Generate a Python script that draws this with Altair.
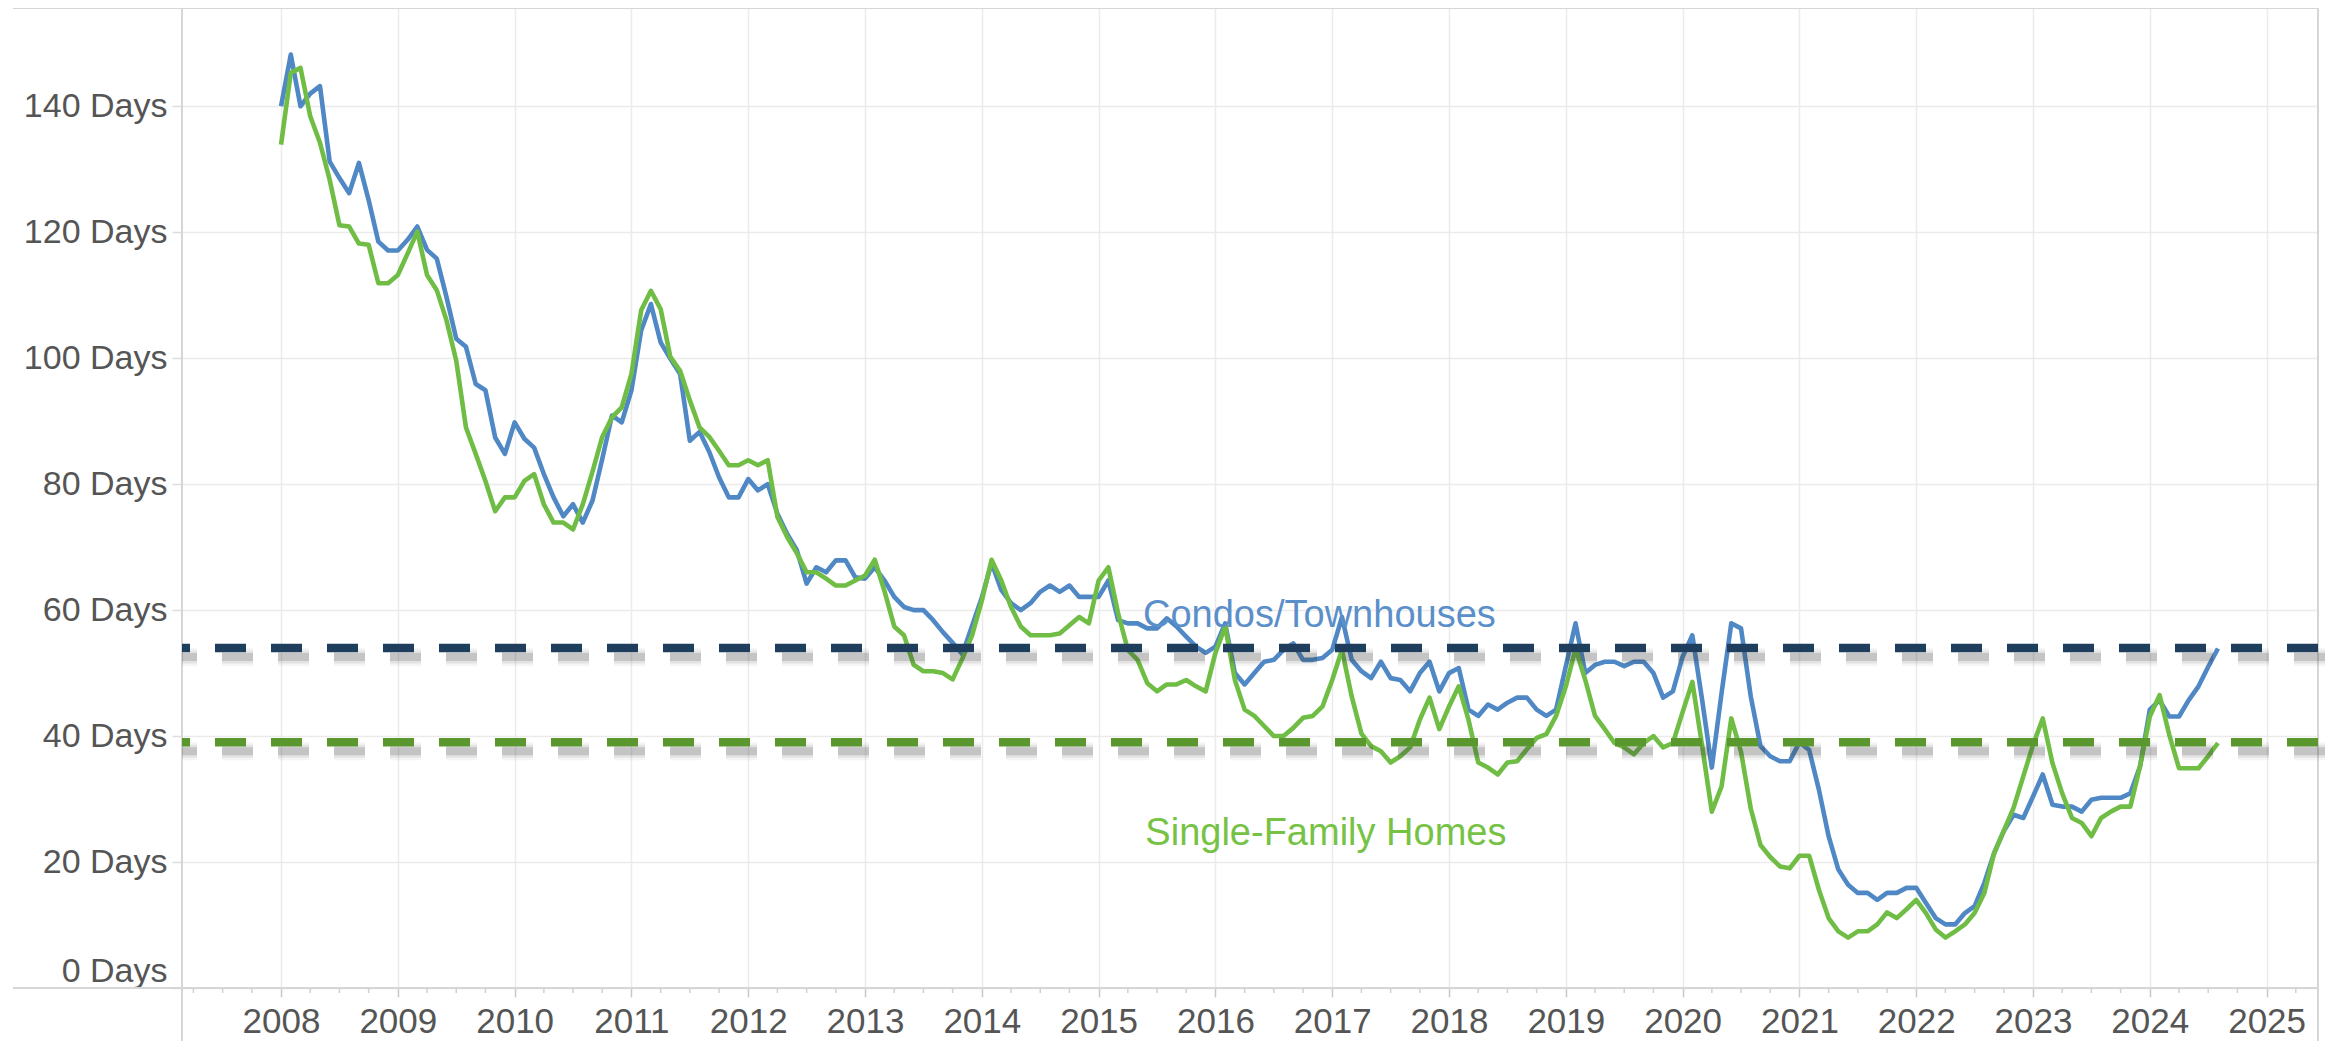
import altair as alt
import pandas as pd

# ---------------- data (monthly, Jan 2008 - Aug 2024) ----------------
start_year = 2008
condos = [
    140, 148.2, 140, 142, 143.2, 131.2, 128.6, 126.2, 131, 125.1, 118.5, 117.1,
    117.1, 118.8, 120.9, 117.2, 115.8, 109.7, 103.1, 101.8, 95.9, 94.9, 87.4, 84.8,
    89.8, 87.2, 85.8, 81.6, 77.9, 74.9, 76.8, 73.9, 77.4, 84, 90.9, 89.8,
    94.9, 104.4, 108.6, 102.5, 99.9, 97.5, 86.9, 88.3, 85.1, 81.1, 77.9, 77.9,
    80.8, 79, 80, 75.3, 72.1, 69.5, 64.2, 66.8, 66, 67.9, 67.9, 65.2,
    65, 66.8, 64.7, 62.1, 60.5, 60, 60, 58.4, 56.5, 54.8, 53, 57.5,
    62, 67.5, 63.2, 61.1, 60, 61.1, 62.9, 63.9, 62.9, 63.9, 62.1, 62.1,
    62.1, 64.7, 58.4, 57.9, 57.9, 57.1, 57.1, 58.7, 57.4, 55.8, 54.2, 53.2,
    54.2, 57.9, 50, 48.2, 50, 51.8, 52.1, 53.7, 54.7, 52.1, 52.1, 52.4,
    53.7, 58.9, 52.1, 50.3, 49.2, 51.8, 49.2, 48.9, 47.1, 50, 51.8, 47.1,
    50, 50.8, 44.2, 43.2, 45, 44.2, 45.3, 46.1, 46.1, 44.2, 43.2, 44.2,
    51.1, 57.9, 50, 51.3, 51.8, 51.8, 51.1, 51.8, 51.8, 50, 46.1, 47.1,
    52.6, 56, 45.8, 35, 46.8, 57.9, 57.1, 46.3, 38.4, 36.8, 36, 36,
    39, 37.8, 31.5, 24.1, 18.8, 16.4, 15.1, 15.1, 14, 15.1, 15.1, 15.9,
    15.9, 13.5, 11.1, 10.1, 10.1, 11.9, 13, 16.7, 21.4, 24.9, 27.5, 27,
    30.4, 33.9, 29.1, 28.8, 28.8, 28, 29.9, 30.2, 30.2, 30.2, 30.9, 35.2,
    44.2, 45.7, 43.1, 43.1, 45.7, 47.9, 51, 53.9,
]
single_family = [
    133.9, 145.3, 146.1, 138.4, 134.2, 128.3, 121.1, 120.9, 118.2, 118, 111.9, 111.9,
    113.2, 116.6, 120.1, 113.2, 110.8, 106, 99.6, 89, 84.8, 80.5, 75.7, 77.9,
    77.9, 80.5, 81.6, 76.8, 73.9, 73.9, 72.8, 76.8, 82, 87.5, 90.6, 92.2,
    97.5, 107.6, 110.7, 107.8, 100.2, 98, 93.3, 89, 87.5, 85.3, 83, 83,
    83.8, 83, 83.8, 74.8, 71.6, 69, 66, 66, 65, 63.9, 63.9, 64.7,
    65.5, 68, 63, 57.4, 56, 51.3, 50.3, 50.3, 50, 49, 52.3, 56,
    61.5, 68, 64.7, 60.5, 57.4, 56, 56, 56, 56.3, 57.6, 58.9, 57.9,
    64.7, 66.8, 59.5, 53.7, 52.1, 48.4, 47.1, 48.2, 48.2, 48.9, 47.9, 47.1,
    53.2, 57.4, 48.9, 44.2, 43.2, 41.6, 40, 40, 41.3, 42.9, 43.2, 44.7,
    48.9, 53.7, 46.3, 40.4, 38.4, 37.6, 35.8, 36.8, 38.2, 42.6, 46.1, 41.1,
    44.7, 47.9, 42.6, 35.8, 35, 33.9, 35.8, 36, 37.9, 39.7, 40.3, 43.2,
    47.9, 53.9, 48.9, 43.2, 41.1, 38.9, 38.2, 37.1, 38.9, 40, 38.2, 38.9,
    43.8, 48.6, 38.5, 28, 32, 42.8, 37.5, 28.5, 22.7, 20.8, 19.3, 19,
    21, 21, 15.6, 11.1, 9, 8, 9, 9, 10.1, 12, 11.1, 12.5,
    14, 11.9, 9.3, 8, 9, 10.1, 11.9, 15.1, 21.4, 25, 28.6, 33.6,
    38.6, 42.8, 35.7, 30.9, 27, 26.2, 24.1, 27, 28, 28.8, 28.8, 35.2,
    43.1, 46.5, 40.2, 34.9, 34.9, 34.9, 36.8, 38.9,
]
series_names = ["Condos/Townhouses", "Single-Family Homes"]
reference_values = [54, 39]          # average lines
year_ticks = list(range(2008, 2026))
day_ticks = [0, 20, 40, 60, 80, 100, 120, 140]
label_x = [2015.38, 2015.4]
label_y = [59, 24.4]

# ---------------- styling ----------------
BLUE = "#4f88c4"
GREEN = "#70bd45"
BLUE_TXT = "#5b8fc9"
GREEN_TXT = "#76c245"
NAVY_REF = "#1f3e5e"
GREEN_REF = "#5a972e"
TEXT = "#555555"
GRID = "#ebebeb"
BORDER = "#d6d6d6"
FONT = "Liberation Sans"

W, H = 2136, 980
x_scale = alt.Scale(domain=[2007.152, 2025.44], nice=False, zero=False)
y_scale = alt.Scale(domain=[0, 155.6], nice=False, zero=True)

n = len(condos)
months = [start_year + i / 12 for i in range(n)]
df_c = pd.DataFrame({"t": months, "days": condos})
df_s = pd.DataFrame({"t": months, "days": single_family})

x_axis = alt.Axis(values=year_ticks, format="d", title=None, grid=True,
                  gridColor=GRID, gridWidth=1.5, domain=False, ticks=True,
                  tickSize=9, tickColor="#c8c8c8", tickWidth=1.5,
                  labelFontSize=35, labelColor=TEXT, labelFont=FONT,
                  labelPadding=7, labelFlush=False)
y_axis = alt.Axis(values=day_ticks, labelExpr="datum.value + ' Days'", title=None,
                  grid=True, gridColor=GRID, gridWidth=1.5, domain=False,
                  ticks=True, tickSize=10, tickColor="#dddddd", tickWidth=1.5,
                  labelFontSize=34, labelColor=TEXT, labelFont=FONT,
                  labelPadding=5, labelFlush=True)


def X(field):
    return alt.X(field, scale=x_scale, axis=x_axis)


def Y(field):
    return alt.Y(field, scale=y_scale, axis=y_axis)


# frame lines (Tableau-style borders)
frame = pd.DataFrame({"k": [0]})
top_border = alt.Chart(frame).mark_rule(color=BORDER, strokeWidth=2).encode(
    x=alt.value(-169), x2=alt.value(W), y=alt.value(0))
bottom_axis = alt.Chart(frame).mark_rule(color=BORDER, strokeWidth=2).encode(
    x=alt.value(-169), x2=alt.value(W), y=alt.value(H))
left_border = alt.Chart(frame).mark_rule(color=BORDER, strokeWidth=2).encode(
    x=alt.value(0), y=alt.value(0), y2=alt.value(H + 53))
right_border = alt.Chart(frame).mark_rule(color=BORDER, strokeWidth=2).encode(
    x=alt.value(W), y=alt.value(0), y2=alt.value(H + 53))

# quarterly minor ticks
quarters = [y + q / 4 for y in range(2007, 2026) for q in (1, 2, 3)]
quarters = [q for q in quarters if 2007.152 <= q <= 2025.44]
minor = alt.Chart(pd.DataFrame({"t": quarters})).mark_rule(
    color="#d0d0d0", strokeWidth=1.5).encode(
    x=X("t:Q"), y=alt.value(H), y2=alt.value(H + 5))

line_c = alt.Chart(df_c).mark_line(color=BLUE, strokeWidth=4.6, strokeJoin="round").encode(
    x=X("t:Q"), y=Y("days:Q"))
line_s = alt.Chart(df_s).mark_line(color=GREEN, strokeWidth=4.6, strokeJoin="round").encode(
    x=X("t:Q"), y=Y("days:Q"))

ref_df = pd.DataFrame({"days": reference_values, "c": [NAVY_REF, GREEN_REF]})
shadows = []
for w, op in [(18, 0.05), (13, 0.09), (8, 0.18)]:
    shadows.append(alt.Chart(ref_df).mark_rule(
        color="#3a3a3a", strokeWidth=w, opacity=op, strokeDash=[31, 25],
        xOffset=7, yOffset=9).encode(y=Y("days:Q")))
refs = alt.Chart(ref_df).mark_rule(strokeWidth=8.5, strokeDash=[31, 25]).encode(
    y=Y("days:Q"), color=alt.Color("c:N", scale=None, legend=None))

lab_df = pd.DataFrame({"label": series_names, "t": label_x, "days": label_y,
                       "c": [BLUE_TXT, GREEN_TXT]})
labels = alt.Chart(lab_df).mark_text(align="left", baseline="middle", fontSize=38,
                                     font=FONT).encode(
    x=X("t:Q"), y=Y("days:Q"), text="label:N",
    color=alt.Color("c:N", scale=None, legend=None))

chart = alt.layer(
    line_c, top_border, bottom_axis, left_border, right_border, minor,
    line_s, *shadows, refs, labels
).properties(
    width=W, height=H,
    padding={"left": 174, "top": 0, "right": 7, "bottom": 53},
    autosize=alt.AutoSizeParams(type="none"),
).configure_view(stroke=None).configure(background="white")

chart.save("out.html", embed_options={"renderer": "svg", "actions": False})
